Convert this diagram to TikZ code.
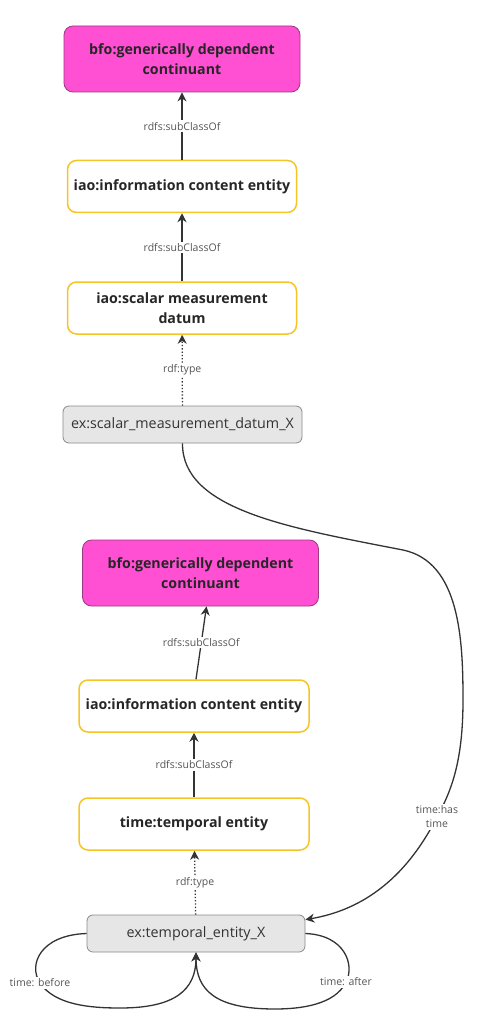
\documentclass[tikz,border=0pt]{standalone}
\usepackage{fontspec}
\setmainfont{Open Sans}
\usepackage{tikz}
\usetikzlibrary{shapes.geometric, arrows.meta}
\definecolor{gdcfill}{HTML}{FF4FD3}
\definecolor{gdcline}{HTML}{9A3A80}
\definecolor{clsline}{HTML}{F5C526}
\definecolor{indfill}{HTML}{E6E6E6}
\definecolor{indline}{HTML}{8A8A8A}
\definecolor{lbltext}{HTML}{555555}
\tikzstyle{gdc} = [rectangle, rounded corners=9pt, minimum width=236pt, minimum height=66pt, align=center, draw=gdcline, fill=gdcfill, line width=0.8pt, font=\fontsize{14.2}{20}\selectfont\bfseries, text=black!85]
\tikzstyle{cls} = [rectangle, rounded corners=9pt, minimum width=229pt, minimum height=52pt, inner xsep=0pt, align=center, draw=clsline, fill=white, line width=1.5pt, font=\fontsize{14.2}{20}\selectfont\bfseries, text=black!85]
\tikzstyle{ind} = [rectangle, rounded corners=6pt, minimum height=37pt, inner xsep=0pt, align=center, draw=indline, fill=indfill, line width=0.8pt, font=\fontsize{14.3}{17}\selectfont, text=black!80]
\tikzstyle{lbl} = [fill=white, inner sep=1.5pt, font=\fontsize{10.5}{14}\selectfont, text=lbltext, align=center]
\tikzstyle{arrow} = [line width=1.3pt, black!80, -{Stealth[length=9pt,width=9pt]}]
\tikzstyle{typearrow} = [arrow, dotted]

\begin{document}
\begin{tikzpicture}[x=1pt, y=-1pt]
\useasboundingbox (0,0) rectangle (489,1016);

\node (gdcA) [gdc] at (182,59) {bfo:generically dependent\\continuant};
\node (iceA) [cls] at (182,186.5) {iao:information content entity};
\node (smd) [cls] at (182,308) {iao:scalar measurement\\datum};
\node (smdX) [ind, minimum width=239pt] at (182.5,424.5) {ex:scalar\_measurement\_datum\_X};

\node (gdcB) [gdc] at (200.5,573) {bfo:generically dependent\\continuant};
\node (iceB) [cls, minimum width=230pt] at (194,706) {iao:information content entity};
\node (te) [cls, minimum width=230pt] at (194,824) {time:temporal entity};
\node (teX) [ind, minimum width=218pt] at (196,933.5) {ex:temporal\_entity\_X};

\draw [arrow] (iceA) -- node[lbl] {rdfs:subClassOf} (gdcA);
\draw [arrow] (smd) -- node[lbl] {rdfs:subClassOf} (iceA);
\draw [typearrow] (smdX) -- node[lbl] {rdf:type} (smd);

\draw [arrow] ([xshift=2pt]iceB.north) -- node[lbl] {rdfs:subClassOf} ([xshift=6pt]gdcB.south);
\draw [arrow] (te.north) -- node[lbl] {rdfs:subClassOf} (iceB.south);
\draw [typearrow] (teX) -- node[lbl] {rdf:type} (te);

\draw [arrow] (smdX.south) .. controls (182,510) and (290,528) .. (403,550)
  .. controls (460,562) and (463,640) .. (463,700)
  .. controls (463,760) and (452,790) .. (437,817) node[lbl] {time:has\\time}
  .. controls (400,890) and (350,912) .. ([yshift=-5pt]teX.north east);

\draw [arrow] (teX.west) .. controls (40,935) and (28,965) .. (40,983) node[lbl] {time: before}
  .. controls (55,1005) and (90,1008) .. (120,1008)
  .. controls (175,1008) and (196,990) .. (teX.south);
\draw [arrow] (teX.east) .. controls (345,935) and (355,965) .. (346,982) node[lbl] {time: after}
  .. controls (335,1005) and (300,1009) .. (275,1009)
  .. controls (215,1009) and (196,990) .. (teX.south);

\end{tikzpicture}
\end{document}
